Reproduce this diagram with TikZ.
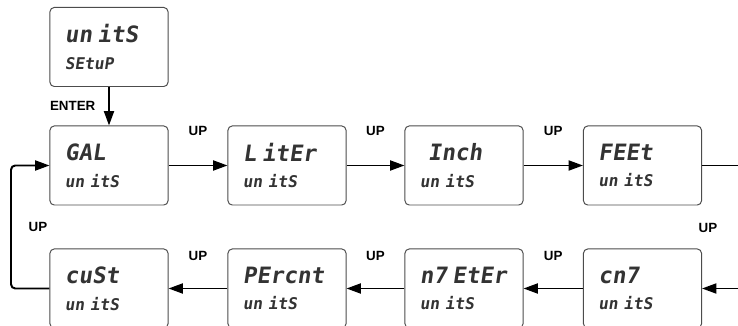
\documentclass[tikz,border=0pt]{standalone}
\usepackage{fontspec}
\setmainfont{Liberation Sans}
\newfontfamily\segfont[FakeSlant=0.15]{DejaVu Sans Mono}
\usetikzlibrary{arrows.meta}

\newcommand{\segbig}{\fontsize{16}{19}\selectfont}

\tikzset{
  disp/.style={draw=black!70, rounded corners=3pt, line width=0.7pt,
    minimum width=2.95cm, minimum height=1.975cm, text width=2.2cm,
    align=left, inner sep=0pt, text=black!80,
    font=\segfont\bfseries\fontsize{11.5}{19}\selectfont},
  flow/.style={-{Triangle[length=3.6mm,width=2.5mm]}, line width=1.4pt},
  key/.style={font=\bfseries\fontsize{9.5}{11}\selectfont}
}

\begin{document}
\begin{tikzpicture}[x=0.025cm,y=-0.025cm]
				\clip (0,0) rectangle (738,326);
				
				\node[disp] (setup) at (109,47) {{\segbig un itS}\\SEtuP};
				
				\node[disp] (gal) at (109,165.5) {{\segbig GAL}\\un itS};
				\node[disp] (liter) at (287,165.5) {{\segbig L itEr}\\un itS};
				\node[disp] (inch) at (464,165.5) {{\segbig\hspace{0.2cm}Inch}\\un itS};
				\node[disp] (feet) at (642.5,165.5) {{\segbig FEEt}\\un itS};
				
				\node[disp] (cust) at (109,288.5) {{\segbig cuSt}\\un itS};
				\node[disp] (percnt) at (287,288.5) {{\segbig PErcnt}\\un itS};
				\node[disp] (meter) at (464,288.5) {{\segbig n7 EtEr}\\un itS};
				\node[disp] (cm) at (642.5,288.5) {{\segbig cn7}\\un itS};
				
				\coordinate (rtop) at (738,165.5);
				\coordinate (rbot) at (738,288.5);
				\coordinate (lbot) at (11,288.5);
				\coordinate (ltop) at (11,165.5);
				
				\draw[flow] (setup)--(gal) node[midway,left=0.2cm,key]{ENTER};
				\draw[flow] (gal)--(liter) node[midway,above=0.6cm,key]{UP};
				\draw[flow] (liter)--(inch) node[midway,above=0.6cm,key]{UP};
				\draw[flow] (inch)--(feet) node[midway,above=0.6cm,key]{UP};
				\draw[line width=1.4pt] (feet)--(rtop);
				\node[key] (upright) at (708,228) {UP};
				\draw[flow] (rbot)--(cm);
				\draw[flow] (cm)--(meter) node[midway,above=0.55cm,key]{UP};
				\draw[flow] (meter)--(percnt) node[midway,above=0.55cm,key]{UP};
				\draw[flow] (percnt)--(cust) node[midway,above=0.55cm,key]{UP};
				\draw[flow,rounded corners=3pt] (cust.west)--(lbot)--node[right=0.3cm,key]{UP} (ltop)--(gal.west);
			\end{tikzpicture}
\end{document}
